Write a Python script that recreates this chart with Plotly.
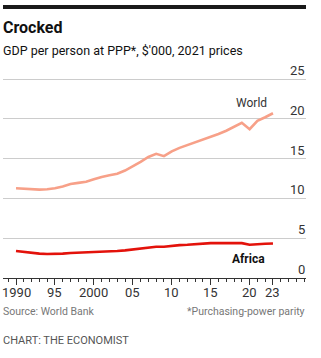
import plotly.graph_objects as go

years = list(range(1990, 2024))
world = [11.27, 11.2, 11.15, 11.1, 11.15, 11.27, 11.5, 11.8, 11.95, 12.1,
         12.4, 12.7, 12.9, 13.1, 13.5, 14.0, 14.6, 15.2, 15.6, 15.3,
         15.9, 16.35, 16.7, 17.0, 17.4, 17.75, 18.1, 18.5, 18.95, 19.5,
         18.7, 19.75, 20.2, 20.7]
africa = [3.39, 3.26, 3.14, 3.06, 3.02, 3.02, 3.06, 3.14, 3.18, 3.18,
          3.18, 3.22, 3.3, 3.39, 3.47, 3.6, 3.72, 3.84, 3.93, 3.93,
          4.05, 4.13, 4.17, 4.26, 4.34, 4.38, 4.38, 4.38, 4.38, 4.38,
          4.17, 4.26, 4.3, 4.34]
x_tickvals = [1990, 1995, 2000, 2005, 2010, 2015, 2020, 2023]
x_ticktext = ["1990", "95", "2000", "05", "10", "15", "20", "23"]
y_tickvals = [0, 5, 10, 15, 20, 25]
y_ticktext = ["0", "5", "10", "15", "20", "25"]

W, H = 321, 358
L, R, T, B = 3, 306, 71, 278   # plot area; y=25 sits at pixel 79
YMAX = 25 * (B - T) / (B - 79)
FONT = "Roboto"

fig = go.Figure()
fig.add_trace(go.Scatter(x=years, y=world, mode="lines",
                         line=dict(color="#F7A088", width=2.6), hoverinfo="skip"))
fig.add_trace(go.Scatter(x=years, y=africa, mode="lines",
                         line=dict(color="#E3120B", width=2.6), hoverinfo="skip"))

fig.update_layout(
    width=W, height=H, autosize=False,
    margin=dict(l=L, r=W - R, t=T, b=H - B, pad=0),
    paper_bgcolor="white", plot_bgcolor="white",
    showlegend=False,
    font=dict(family=FONT, color="#333333", size=12),
    xaxis=dict(range=[1988.33, 2027.24], tickvals=x_tickvals,
               showticklabels=False,
               ticks="outside", ticklen=6, tickwidth=1, tickcolor="#333333",
               minor=dict(dtick=1, tick0=1990, ticks="outside", ticklen=3,
                          tickwidth=1, tickcolor="#333333", showgrid=False),
               showgrid=False, zeroline=False, showline=True,
               linecolor="#333333", linewidth=1.3,
               fixedrange=True),
    yaxis=dict(range=[0, YMAX], tickvals=y_tickvals, side="right",
               showticklabels=False, ticks="",
               showgrid=True, gridcolor="#cccccc", gridwidth=1,
               zeroline=False, showline=False,
               fixedrange=True),
)

def py(px):
    # pixel y (from top) -> paper y
    return (B - px) / (B - T)

# top black bar
fig.add_shape(type="rect", xref="paper", yref="paper",
              x0=0, x1=1, y0=py(9), y1=py(5), fillcolor="#1a1a1a", line=dict(width=0))

# y tick labels, above the gridlines at the right
for v, t in zip(y_tickvals, y_ticktext):
    fig.add_annotation(text=t, xref="paper", yref="y", x=1, y=v,
                       xanchor="right", yanchor="bottom", showarrow=False,
                       xshift=1, yshift=-1,
                       font=dict(family=FONT, size=13, color="#333333"))

# x tick labels
for v, t in zip(x_tickvals, x_ticktext):
    fig.add_annotation(text=t, xref="x", yref="paper", x=v, y=py(292),
                       xanchor="center", yanchor="middle", showarrow=False,
                       font=dict(family=FONT, size=13, color="#333333"))

fig.add_annotation(text="<b>Crocked</b>", xref="paper", yref="paper",
                   x=0, y=py(28), xanchor="left", yanchor="middle", xshift=-2,
                   showarrow=False, font=dict(family=FONT, size=16, color="#111111"))
fig.add_annotation(text="GDP per person at PPP*, $'000, 2021 prices", xref="paper", yref="paper",
                   x=0, y=py(50), xanchor="left", yanchor="middle", xshift=-2,
                   showarrow=False, font=dict(family=FONT, size=12.5, color="#111111"))
fig.add_annotation(text="World", x=2020.3, y=py(103), xref="x", yref="paper",
                   xanchor="center", yanchor="middle", showarrow=False,
                   font=dict(family=FONT, size=12, color="#333333"))
fig.add_annotation(text="<b>Africa</b>", x=2019.9, y=py(259), xref="x", yref="paper",
                   xanchor="center", yanchor="middle", showarrow=False,
                   font=dict(family=FONT, size=12, color="#111111"))
fig.add_annotation(text="Source: World Bank", xref="paper", yref="paper",
                   x=0, y=py(311), xanchor="left", yanchor="middle", xshift=-2,
                   showarrow=False, font=dict(family=FONT, size=10.5, color="#777777"))
fig.add_annotation(text="*Purchasing-power parity", xref="paper", yref="paper",
                   x=1, y=py(311), xanchor="right", yanchor="middle", xshift=1,
                   showarrow=False, font=dict(family=FONT, size=10.5, color="#777777"))
fig.add_annotation(text="CHART: THE ECONOMIST", xref="paper", yref="paper",
                   x=0, y=py(340), xanchor="left", yanchor="middle", xshift=-2,
                   showarrow=False, font=dict(family=FONT, size=11, color="#555555"))

fig.write_html("out.html", config={"displayModeBar": False})
